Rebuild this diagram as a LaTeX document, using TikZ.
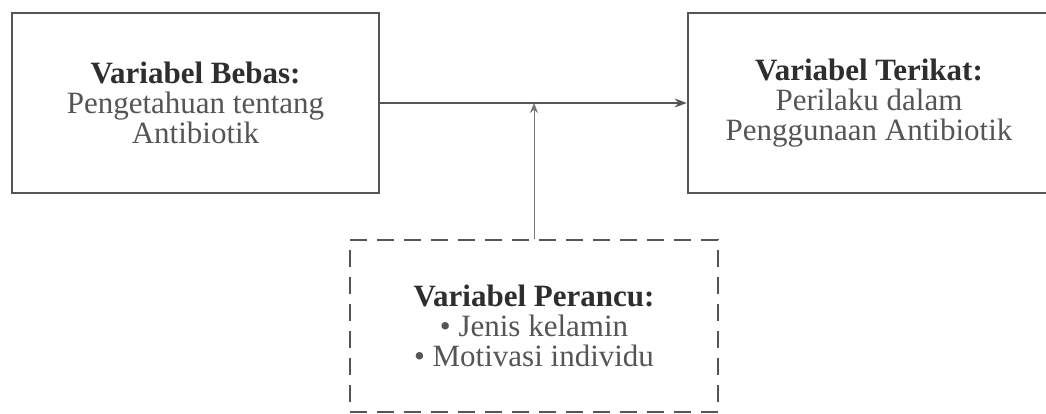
\documentclass[tikz,border=0pt]{standalone}
\usepackage{fontspec}
\setmainfont{Liberation Serif}
\usetikzlibrary{arrows.meta}
\definecolor{boxcol}{HTML}{555555}
\definecolor{titlecol}{HTML}{2E2E2E}
\definecolor{bodycol}{HTML}{555555}
\definecolor{thincol}{HTML}{777777}
\tikzset{
  varbox/.style={draw=boxcol, line width=2.6pt, rectangle, align=center,
    text=bodycol, font=\fontsize{31}{30}\selectfont, inner sep=0pt},
  confbox/.style={varbox, line width=2.4pt, dash pattern=on 17pt off 10pt},
  mainarrow/.style={draw=boxcol, line width=1.8pt, -{Stealth[length=12pt,width=9pt]}},
  thinarrow/.style={draw=thincol, line width=0.9pt, -{Stealth[length=10pt,width=8pt]}}
}
\newcommand{\ttl}[1]{{\bfseries\color{titlecol}#1}}
\begin{document}
\begin{tikzpicture}[x=1pt,y=-1pt]
\clip (0,0) rectangle (1046,414);
\fill[white] (0,0) rectangle (1046,414);
\node[varbox, minimum width=367pt, minimum height=180pt] (L) at (195.5,103)
  {\ttl{Variabel Bebas:}\\Pengetahuan tentang\\Antibiotik};
\node[varbox, minimum width=362pt, minimum height=180pt] (R) at (869,103)
  {\ttl{Variabel Terikat:}\\Perilaku dalam\\Penggunaan Antibiotik};
\node[confbox, minimum width=368pt, minimum height=172pt] (C) at (534,326)
  {\ttl{Variabel Perancu:}\\• Jenis kelamin\\• Motivasi individu};
\draw[mainarrow] (L.east) -- (R.west);
\draw[thinarrow] (C.north) -- (C.north |- L.east);
\end{tikzpicture}
\end{document}
